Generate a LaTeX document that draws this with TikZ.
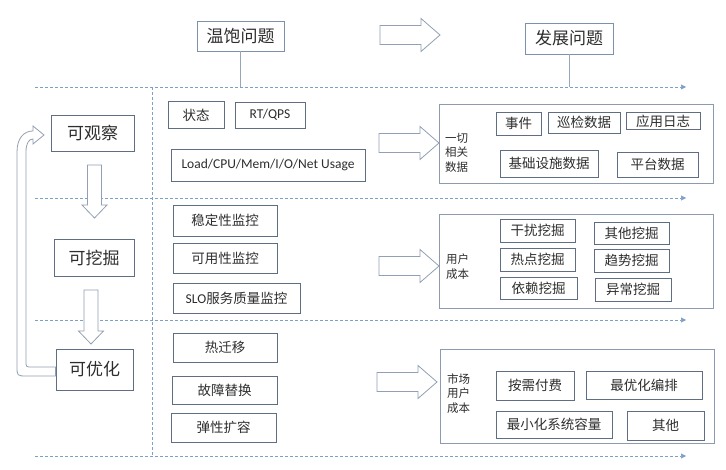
\documentclass[tikz,border=0pt]{standalone}
\usepackage{fontspec}
\setmainfont{Noto Sans CJK SC}
\newfontfamily\latin{Carlito}
\usetikzlibrary{arrows.meta}
\definecolor{boxline}{RGB}{95,110,130}
\definecolor{hdrline}{RGB}{125,145,170}
\definecolor{pnlline}{RGB}{140,155,175}
\definecolor{arwline}{RGB}{145,160,180}
\definecolor{dashblue}{RGB}{125,160,200}
\definecolor{txt}{RGB}{45,45,45}
% hollow arrows: right (x left, y centre) and down (x centre, y top, y head)
\newcommand{\rtarrow}[2]{%
  \draw[arwline, line width=0.8pt, fill=white] (#1,#2-9.5) -- ++(41,0) -- ++(0,-7) -- ++(19,16.5) -- ++(-19,16.5) -- ++(0,-7) -- ++(-41,0) -- cycle;}
\newcommand{\dnarrow}[3]{%
  \draw[arwline, line width=0.8pt, fill=white] (#1-7,#2) -- (#1+7,#2) -- (#1+7,#3) -- (#1+12.5,#3) -- (#1,#3+13) -- (#1-12.5,#3) -- (#1-7,#3) -- cycle;}

\begin{document}
\begin{tikzpicture}[x=1pt, y=-1pt,
    hdr/.style={draw=hdrline, line width=0.8pt, text=txt, font=\fontsize{17}{20}\selectfont, inner sep=0pt},
    stage/.style={draw=boxline, line width=0.8pt, text=txt, font=\fontsize{17}{20}\selectfont, inner sep=0pt},
    cell/.style={draw=boxline, line width=0.8pt, text=txt, font=\fontsize{13.5}{16}\selectfont, inner sep=0pt},
    panel/.style={draw=pnlline, line width=0.8pt, inner sep=0pt},
    side/.style={text=txt, font=\fontsize{11.5}{14.5}\selectfont, align=left, anchor=west, inner sep=0pt},
    dashline/.style={dashblue, line width=0.6pt, dash pattern=on 3pt off 2pt, -{Triangle[length=5pt,width=5pt]}}]
    \useasboundingbox (0,0) rectangle (726,470);

    % dashed row separators
    \foreach \y [count=\i] in {87,198,320,456} {
        \coordinate (l\i) at (35,\y);
        \coordinate (r\i) at (686,\y);
        \draw[dashline] (l\i) -- (r\i);
    }
    \coordinate (vt) at (152,87);
    \coordinate (vb) at (152,456);
    \draw[dashblue, line width=0.6pt, dash pattern=on 3pt off 2pt] (vt) -- (vb);

    % headers
    \node[hdr, minimum width=87, minimum height=30] (wb) at (240.5,36) {温饱问题};
    \node[hdr, minimum width=88, minimum height=31] (fz) at (569,38.5) {发展问题};
    \draw[hdrline!80, line width=0.8pt] (wb.south) -- (wb.south |- l1);
    \draw[hdrline!80, line width=0.8pt] (fz.south) -- (fz.south |- l1);
    \rtarrow{380}{35}

    % left column : stages
    \node[stage, minimum width=83, minimum height=36] (gc) at (92.5,133) {可观察};
    \node[stage, minimum width=80, minimum height=37] (wj) at (94,257.5) {可挖掘};
    \node[stage, minimum width=77, minimum height=41] (yh) at (94.5,369.5) {可优化};
    \dnarrow{94.5}{165}{205}
    \dnarrow{91}{290}{331}
    % loop back from 可优化 to 可观察
    \draw[arwline, line width=0.8pt, fill=white] (yh.west |- 0,376) -- (27,376) .. controls (17,376) .. (17,366)
        -- (17,152) .. controls (17,138) and (24,131) .. (33,131) -- (33,126) -- (44,135) -- (33,144) -- (33,139)
        .. controls (29,139) and (26,143) .. (26,152) -- (26,361) .. controls (26,367) .. (32,367) -- (yh.west |- 0,367) -- cycle;

    % middle column
    \node[cell, minimum width=56, minimum height=27] (zt) at (196,115) {状态};
    \node[cell, minimum width=70, minimum height=26] (rt) at (270,115) {\latin RT/QPS};
    \node[cell, minimum width=194, minimum height=32] (ld) at (268,165) {\latin Load/CPU/Mem/I/O/Net Usage};
    \node[cell, minimum width=104, minimum height=31] (wd) at (225,220.5) {稳定性监控};
    \node[cell, minimum width=104, minimum height=30] (ky) at (225,258) {可用性监控};
    \node[cell, minimum width=127, minimum height=30] (slo) at (236.5,298) {{\latin SLO}服务质量监控};
    \node[cell, minimum width=104, minimum height=29] (rq) at (225,347.5) {热迁移};
    \node[cell, minimum width=105, minimum height=28] (gz) at (224.5,390) {故障替换};
    \node[cell, minimum width=105, minimum height=29] (tx) at (223.5,427.5) {弹性扩容};

    % right column arrows
    \rtarrow{379}{143}
    \rtarrow{379}{266}
    \rtarrow{377}{382}

    % Panel 1 : data
    \node[panel, minimum width=274, minimum height=79] (p1) at (576,143.5) {};
    \node[side] (s1) at (445,152.5) {一切\\相关\\数据};
    \node[cell, minimum width=45, minimum height=23] (sj) at (518.5,123.5) {事件};
    \node[cell, minimum width=72, minimum height=21] (xj) at (584,122.5) {巡检数据};
    \node[cell, minimum width=74, minimum height=17] (yy) at (663,121) {应用日志};
    \node[cell, minimum width=98, minimum height=27] (jc) at (549,163.5) {基础设施数据};
    \node[cell, minimum width=81, minimum height=25] (pt) at (657.5,164.5) {平台数据};

    % Panel 2 : mining
    \node[panel, minimum width=274, minimum height=94] (p2) at (576,261) {};
    \node[side] (s2) at (446,266.5) {用户\\成本};
    \node[cell, minimum width=75, minimum height=23] (gr) at (537.5,230.5) {干扰挖掘};
    \node[cell, minimum width=75, minimum height=22] (qt) at (631.5,233) {其他挖掘};
    \node[cell, minimum width=75, minimum height=23] (rd) at (537.5,259.5) {热点挖掘};
    \node[cell, minimum width=75, minimum height=23] (qs) at (631.5,260.5) {趋势挖掘};
    \node[cell, minimum width=77, minimum height=22] (yl) at (538.5,288) {依赖挖掘};
    \node[cell, minimum width=76, minimum height=23] (yc) at (633,289.5) {异常挖掘};

    % Panel 3 : optimisation
    \node[panel, minimum width=274, minimum height=94] (p3) at (577,396) {};
    \node[side] (s3) at (447,393.5) {市场\\用户\\成本};
    \node[cell, minimum width=78, minimum height=29] (af) at (535,385.5) {按需付费};
    \node[cell, minimum width=116, minimum height=28] (zy) at (644,385) {最优化编排};
    \node[cell, minimum width=116, minimum height=27] (zx) at (554,424.5) {最小化系统容量};
    \node[cell, minimum width=77, minimum height=29] (qo) at (665.5,425.5) {其他};
\end{tikzpicture}
\end{document}
